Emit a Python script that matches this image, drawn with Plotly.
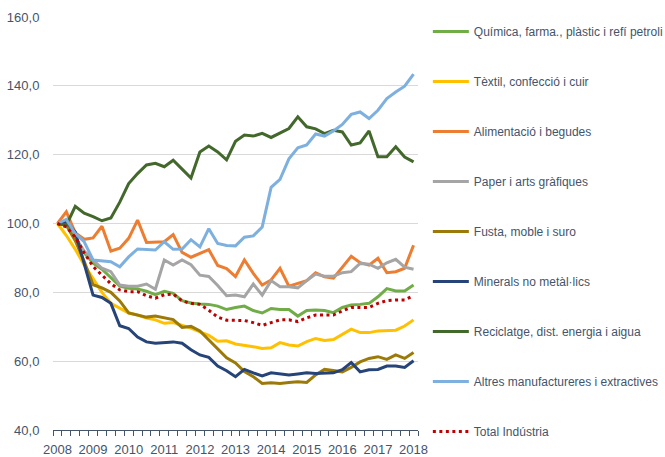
import plotly.graph_objects as go

years = ["2008", "2009", "2010", "2011", "2012", "2013", "2014", "2015", "2016", "2017", "2018"]
quarters = list(range(41))

quimica = [100, 99.5, 96, 91.5, 88.5, 86.7, 84.3, 81.8, 81.2, 81, 80.3, 79.3, 80.3, 79.7, 77.6, 76.9, 76.6, 76.5, 76, 75,
           75.6, 76, 74.7, 74, 75.3, 75, 75, 73.1, 74.7, 74.9, 74.7, 74.1, 75.6, 76.3, 76.5, 76.8, 78.7, 81.1, 80.4, 80.4, 82.1]
textil = [100, 96.5, 92.5, 88, 84, 80, 76.8, 75.3, 74, 73.4, 72.5, 72, 71, 71.2, 70.5, 69.6, 68.5, 67.5, 65.8, 65.9,
          65, 64.7, 64.2, 63.7, 63.9, 65.4, 64.7, 64.4, 65.7, 66.6, 66, 66.3, 67.9, 69.3, 68.3, 68.3, 68.8, 69, 69, 70.2, 72]
alimentacio = [100, 103.4, 97.3, 95.4, 95.8, 99.2, 92, 92.8, 95.7, 101, 94.5, 94.5, 94.7, 96.8, 91.6, 90.2, 91.3, 92.4, 87.8, 86.9,
               84.6, 89.4, 85.5, 82.1, 83.6, 87, 81.8, 82.6, 83.4, 85.7, 84.5, 84.1, 87.4, 90.5, 88.6, 87.9, 89.9, 85.7, 86, 87, 93.7]
paper = [100, 99.5, 96, 92, 89.4, 87, 86, 82.1, 81.8, 81.8, 82.4, 80.9, 89.4, 87.9, 89.4, 88, 85, 84.6, 82, 79,
         79.2, 78.7, 82.4, 79.2, 83.4, 81.6, 81.6, 81.3, 83.4, 85.3, 84.7, 84.7, 85.7, 86, 88.4, 88.2, 87, 88.6, 89.6, 87.3, 86.7]
fusta = [100, 99.5, 95, 89, 82.2, 81.3, 80, 77.5, 74, 73.3, 72.8, 73.1, 72.6, 72.1, 69.8, 70.1, 68.8, 66.2, 63.5, 61,
         59.5, 57, 55.5, 53.5, 53.7, 53.5, 53.8, 54, 53.8, 56, 57.6, 57.2, 56.9, 58.2, 59.8, 60.8, 61.3, 60.5, 61.8, 60.8, 62.5]
minerals = [100, 100.5, 97.5, 88, 79.2, 78.5, 76.8, 70.3, 69.5, 67, 65.6, 65.2, 65.4, 65.6, 65.2, 63.3, 61.8, 61.1, 58.6, 57.2,
            55.5, 57.6, 56.6, 55.7, 56.6, 56.3, 56, 56.3, 56.6, 56.4, 56.4, 56.6, 57.5, 59.6, 56.9, 57.5, 57.6, 58.6, 58.6, 58.2, 60.1]
reciclatge = [100, 99.5, 105, 103, 102, 100.8, 101.6, 106.2, 111.6, 114.5, 117, 117.5, 116.5, 118.4, 115.8, 113.2, 120.8, 122.5, 120.8, 118.5,
              123.9, 125.7, 125.4, 126.2, 125, 126.2, 127.6, 131, 128.1, 127.5, 126.1, 127.1, 126.6, 122.8, 123.4, 126.9, 119.4, 119.4, 122.3, 119.3, 117.9]
altres = [100, 101.2, 97.1, 94.7, 89.4, 89.2, 88.9, 87.4, 90.3, 92.6, 92.5, 92.3, 94.7, 92.5, 92.6, 95.3, 93.2, 98.5, 94.2, 93.6,
          93.5, 96, 96.4, 99, 110.5, 112.8, 118.8, 122, 122.8, 126, 125.4, 126.9, 128.8, 131.7, 132.4, 130.5, 132.9, 136.3, 138.2, 139.9, 143.4]
total = [100, 99, 96, 91.5, 87.5, 85, 82.5, 80.7, 80.2, 80.2, 79, 78.3, 79.3, 79.5, 77.5, 76.8, 76.5, 74.8, 72.8, 71.9,
         71.8, 71.8, 71.2, 70.4, 71.2, 72, 72, 71.5, 72.6, 73.4, 73.4, 73.4, 74.6, 75.6, 75.6, 75.6, 76.8, 77.6, 77.8, 77.8, 79]

series = [
    ("Química, farma., plàstic i refí petroli", quimica, "#70AD47", "solid"),
    ("Tèxtil, confecció i cuir", textil, "#FFC000", "solid"),
    ("Alimentació i begudes", alimentacio, "#ED7D31", "solid"),
    ("Paper i arts gràfiques", paper, "#A5A5A5", "solid"),
    ("Fusta, moble i suro", fusta, "#9C7A0A", "solid"),
    ("Minerals no metàl·lics", minerals, "#264478", "solid"),
    ("Reciclatge, dist. energia i aigua", reciclatge, "#43682B", "solid"),
    ("Altres manufactureres i extractives", altres, "#7DB0DF", "solid"),
    ("Total Indústria", total, "#C00000", "3px,3.5px"),
]

fig = go.Figure()
for i, (name, vals, color, dash) in enumerate(series):
    fig.add_trace(go.Scatter(
        x=quarters, y=vals, mode="lines", name=name, legendgroup=str(i),
        line=dict(color=color, width=3, dash=dash),
    ))

axis_col = "#44546A"
fig.update_layout(
    width=665, height=457,
    margin=dict(l=53, r=247, t=17, b=27, autoexpand=False),
    paper_bgcolor="white", plot_bgcolor="white",
    separators=",.",
    font=dict(family="Liberation Sans, Arial, sans-serif", size=13, color=axis_col),
    showlegend=True,
    legend=dict(
        x=1.027, xanchor="left", y=1.0, yanchor="top",
        traceorder="grouped", tracegroupgap=31, itemwidth=36,
        maxheight=500,
        font=dict(family="Liberation Sans, Arial, sans-serif", size=12, color=axis_col),
        bgcolor="rgba(0,0,0,0)",
    ),
    xaxis=dict(
        range=[-0.5, 40.5],
        tickmode="array", tickvals=[4 * k for k in range(len(years))], ticktext=years,
        ticks="outside", ticklen=7, tickcolor="rgba(0,0,0,0)",
        showgrid=False, zeroline=False,
        showline=True, linecolor=axis_col, linewidth=1,
        minor=dict(tickmode="array", tickvals=[k - 0.5 for k in range(42)],
                   ticks="outside", ticklen=5, tickcolor=axis_col, tickwidth=1, showgrid=False),
        tickfont=dict(size=13, color=axis_col),
    ),
    yaxis=dict(
        range=[40, 160], tick0=40, dtick=20, tickformat=".1f",
        showgrid=True, gridcolor="#D9D9D9", gridwidth=1,
        zeroline=False, showline=False,
        ticks="outside", ticklen=10, tickcolor="rgba(0,0,0,0)",
        tickfont=dict(size=13, color=axis_col),
    ),
)

fig.write_html("out.html", config={"displayModeBar": False},
               post_script="document.body.style.margin='0';")
